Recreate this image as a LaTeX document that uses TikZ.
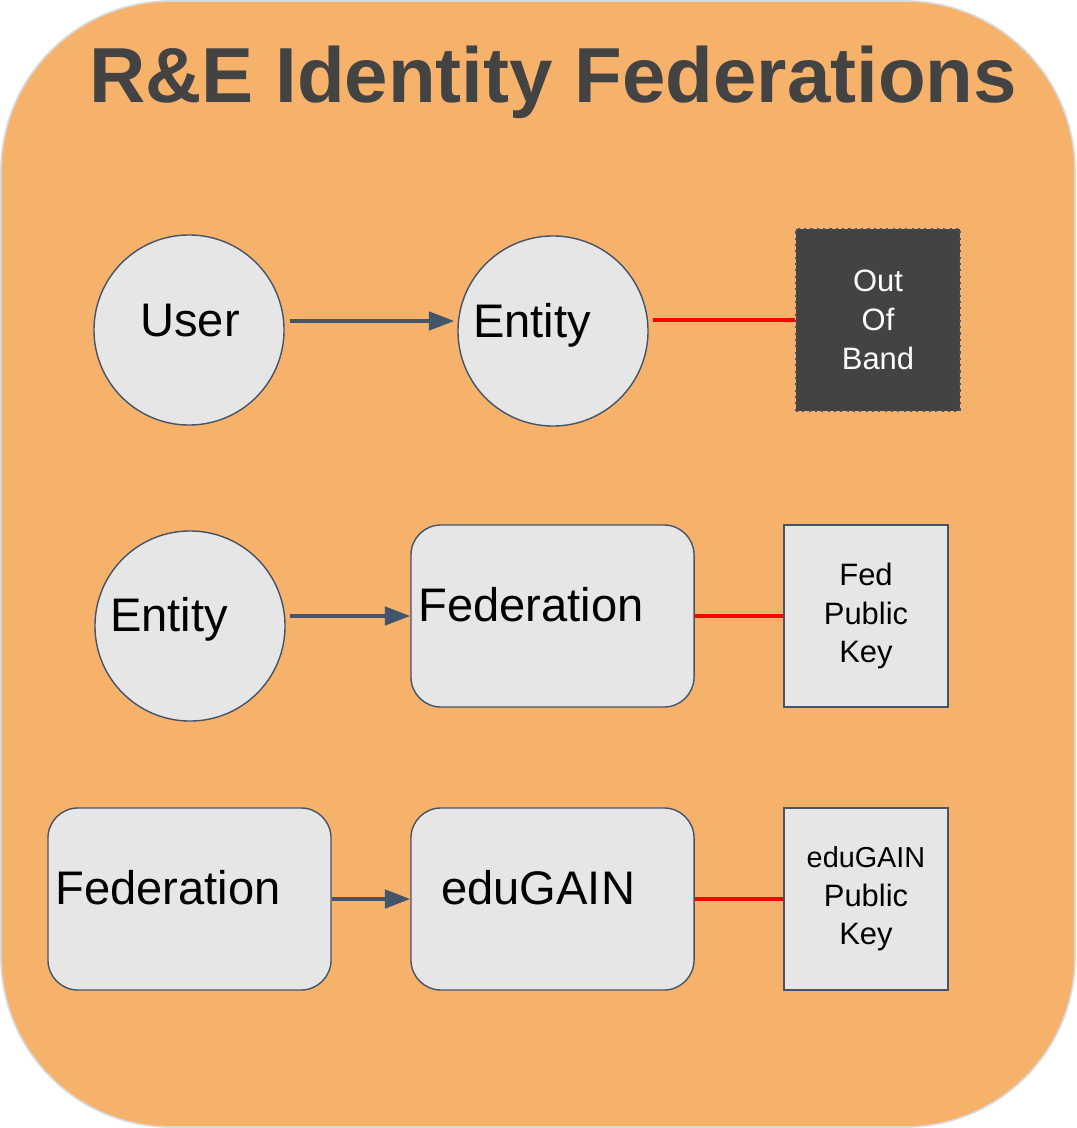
\documentclass[tikz,border=0pt]{standalone}
\usepackage{fontspec}
\setmainfont{Liberation Sans}
\usetikzlibrary{arrows.meta}
\definecolor{bgorange}{HTML}{F6B26B}
\definecolor{bgline}{HTML}{D9D9D9}
\definecolor{slate}{HTML}{44546A}
\definecolor{shapefill}{HTML}{E6E6E6}
\definecolor{darkgray}{HTML}{434343}
\begin{document}
\begin{tikzpicture}[x=0.025cm, y=-0.025cm,
    round/.style={circle, draw=slate, fill=shapefill, line width=1pt, minimum size=4.75cm, inner sep=0pt},
    fedbox/.style={rectangle, rounded corners=0.75cm, draw=slate, fill=shapefill, line width=1pt, minimum width=7.075cm, minimum height=4.55cm},
    keybox/.style={rectangle, draw=slate, fill=shapefill, line width=1pt, minimum width=4.1cm, minimum height=4.55cm, align=center, font=\fontsize{22pt}{27.5pt}\selectfont},
    bigtext/.style={anchor=base west, inner sep=0pt, font=\fontsize{33.5pt}{40pt}\selectfont},
    arrow/.style={draw=slate, line width=2.6pt, -{Triangle[length=18pt, width=13pt]}},
    keyline/.style={draw=red, line width=2.6pt}]
    \useasboundingbox (0,0) rectangle (1076,1128);

    % Background panel
    \draw[fill=bgorange, draw=bgline, line width=1.2pt, rounded corners=4.25cm] (1,1) rectangle (1075,1127);
    \node[anchor=base, inner sep=0pt, text=darkgray, font=\fontsize{55.5pt}{60pt}\selectfont\bfseries] (title) at (553,103) {R\&E Identity Federations};

    % Row 1: user to entity
    \node[round] (user) at (189,330) {};
    \node[round] (entA) at (553,331) {};
    \node[keybox, fill=darkgray, draw=slate, dash pattern=on 1.5pt off 3pt, text=white] (oob) at (878,320) {Out\\Of\\Band};
    \node[bigtext] (userTxt) at (140,336) {User};
    \node[bigtext] (entATxt) at (473,337) {Entity};
    \draw[arrow] ([shift={(5,-9)}]user.east) -- ([shift={(-3,-10)}]entA.west);
    \draw[keyline] ([shift={(4,-11)}]entA.east) -- (oob.west);

    % Row 2: entity to federation
    \node[round] (entB) at (190,626) {};
    \node[fedbox] (fedA) at (552.5,616) {};
    \node[keybox] (fedKey) at (866,616) {Fed\\Public\\Key};
    \node[bigtext] (entBTxt) at (110,631) {Entity};
    \node[bigtext] (fedATxt) at (418,621) {Federation};
    \draw[arrow] ([shift={(4,-10)}]entB.east) -- (fedA.west);
    \draw[keyline] (fedA.east) -- (fedKey.west);

    % Row 3: federation to eduGAIN
    \node[fedbox] (fedB) at (189.5,899) {};
    \node[fedbox] (edugain) at (552.5,899) {};
    \node[keybox] (eduKey) at (866,899) {{\fontsize{20.5pt}{27.5pt}\selectfont eduGAIN}\\Public\\Key};
    \node[bigtext] (fedBTxt) at (55,904) {Federation};
    \node[bigtext] (eduTxt) at (441,904) {eduGAIN};
    \draw[arrow] (fedB.east) -- (edugain.west);
    \draw[keyline] (edugain.east) -- (eduKey.west);
\end{tikzpicture}
\end{document}
